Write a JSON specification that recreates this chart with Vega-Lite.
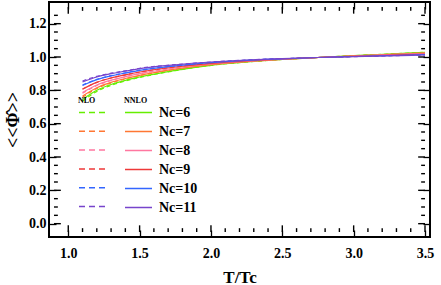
{
  "$schema": "https://vega.github.io/schema/vega-lite/v6.json",
  "width": 381,
  "height": 235,
  "autosize": {"type": "none"},
  "padding": {"left": 49, "top": 2, "right": 11, "bottom": 48},
  "config": {
    "view": {"stroke": "black", "strokeWidth": 2},
    "font": "Liberation Serif",
    "axis": {"grid": false, "domain": false, "ticks": true, "tickColor": "#000000", "tickOpacity": 1, "tickWidth": 1.3, "labelFont": "Liberation Serif", "labelFontWeight": "bold", "labelFontSize": 14, "labelColor": "black", "titleFont": "Liberation Serif", "titleFontWeight": "bold", "titleColor": "black", "zindex": 1}
  },
  "datasets": {
    "xmajor": [{"v": 1.0}, {"v": 1.5}, {"v": 2.0}, {"v": 2.5}, {"v": 3.0}, {"v": 3.5}],
    "xminor": [{"v": 1.1}, {"v": 1.2}, {"v": 1.3}, {"v": 1.4}, {"v": 1.6}, {"v": 1.7}, {"v": 1.8}, {"v": 1.9}, {"v": 2.1}, {"v": 2.2}, {"v": 2.3}, {"v": 2.4}, {"v": 2.6}, {"v": 2.7}, {"v": 2.8}, {"v": 2.9}, {"v": 3.1}, {"v": 3.2}, {"v": 3.3}, {"v": 3.4}],
    "ymajor": [{"v": 0.0}, {"v": 0.2}, {"v": 0.4}, {"v": 0.6}, {"v": 0.8}, {"v": 1.0}, {"v": 1.2}],
    "yminor": [{"v": 0.05}, {"v": 0.1}, {"v": 0.15}, {"v": 0.25}, {"v": 0.3}, {"v": 0.35}, {"v": 0.45}, {"v": 0.5}, {"v": 0.55}, {"v": 0.65}, {"v": 0.7}, {"v": 0.75}, {"v": 0.85}, {"v": 0.9}, {"v": 0.95}, {"v": 1.05}, {"v": 1.1}, {"v": 1.15}, {"v": 1.25}]
  },
  "data": {
    "values": [
      {"x": 1.1, "Nc": 6, "NLO": 0.735, "NNLO": 0.745}, {"x": 1.1, "Nc": 7, "NLO": 0.759, "NNLO": 0.766}, {"x": 1.1, "Nc": 8, "NLO": 0.783, "NNLO": 0.787}, {"x": 1.1, "Nc": 9, "NLO": 0.807, "NNLO": 0.808}, {"x": 1.1, "Nc": 10, "NLO": 0.832, "NNLO": 0.829}, {"x": 1.1, "Nc": 11, "NLO": 0.856, "NNLO": 0.850},
      {"x": 1.2, "Nc": 6, "NLO": 0.793, "NNLO": 0.800}, {"x": 1.2, "Nc": 7, "NLO": 0.811, "NNLO": 0.816}, {"x": 1.2, "Nc": 8, "NLO": 0.829, "NNLO": 0.832}, {"x": 1.2, "Nc": 9, "NLO": 0.848, "NNLO": 0.848}, {"x": 1.2, "Nc": 10, "NLO": 0.866, "NNLO": 0.864}, {"x": 1.2, "Nc": 11, "NLO": 0.884, "NNLO": 0.880},
      {"x": 1.3, "Nc": 6, "NLO": 0.830, "NNLO": 0.835}, {"x": 1.3, "Nc": 7, "NLO": 0.845, "NNLO": 0.848}, {"x": 1.3, "Nc": 8, "NLO": 0.859, "NNLO": 0.861}, {"x": 1.3, "Nc": 9, "NLO": 0.874, "NNLO": 0.874}, {"x": 1.3, "Nc": 10, "NLO": 0.888, "NNLO": 0.887}, {"x": 1.3, "Nc": 11, "NLO": 0.903, "NNLO": 0.900},
      {"x": 1.4, "Nc": 6, "NLO": 0.856, "NNLO": 0.860}, {"x": 1.4, "Nc": 7, "NLO": 0.868, "NNLO": 0.871}, {"x": 1.4, "Nc": 8, "NLO": 0.881, "NNLO": 0.882}, {"x": 1.4, "Nc": 9, "NLO": 0.893, "NNLO": 0.893}, {"x": 1.4, "Nc": 10, "NLO": 0.905, "NNLO": 0.904}, {"x": 1.4, "Nc": 11, "NLO": 0.917, "NNLO": 0.915},
      {"x": 1.5, "Nc": 6, "NLO": 0.877, "NNLO": 0.880}, {"x": 1.5, "Nc": 7, "NLO": 0.888, "NNLO": 0.890}, {"x": 1.5, "Nc": 8, "NLO": 0.899, "NNLO": 0.900}, {"x": 1.5, "Nc": 9, "NLO": 0.910, "NNLO": 0.910}, {"x": 1.5, "Nc": 10, "NLO": 0.921, "NNLO": 0.920}, {"x": 1.5, "Nc": 11, "NLO": 0.932, "NNLO": 0.930},
      {"x": 1.75, "Nc": 6, "NLO": 0.918, "NNLO": 0.920}, {"x": 1.75, "Nc": 7, "NLO": 0.926, "NNLO": 0.927}, {"x": 1.75, "Nc": 8, "NLO": 0.934, "NNLO": 0.934}, {"x": 1.75, "Nc": 9, "NLO": 0.940, "NNLO": 0.940}, {"x": 1.75, "Nc": 10, "NLO": 0.947, "NNLO": 0.947}, {"x": 1.75, "Nc": 11, "NLO": 0.954, "NNLO": 0.953},
      {"x": 2.0, "Nc": 6, "NLO": 0.950, "NNLO": 0.950}, {"x": 2.0, "Nc": 7, "NLO": 0.954, "NNLO": 0.954}, {"x": 2.0, "Nc": 8, "NLO": 0.958, "NNLO": 0.958}, {"x": 2.0, "Nc": 9, "NLO": 0.962, "NNLO": 0.962}, {"x": 2.0, "Nc": 10, "NLO": 0.966, "NNLO": 0.966}, {"x": 2.0, "Nc": 11, "NLO": 0.970, "NNLO": 0.970},
      {"x": 2.25, "Nc": 6, "NLO": 0.970, "NNLO": 0.970}, {"x": 2.25, "Nc": 7, "NLO": 0.972, "NNLO": 0.972}, {"x": 2.25, "Nc": 8, "NLO": 0.975, "NNLO": 0.975}, {"x": 2.25, "Nc": 9, "NLO": 0.977, "NNLO": 0.977}, {"x": 2.25, "Nc": 10, "NLO": 0.980, "NNLO": 0.980}, {"x": 2.25, "Nc": 11, "NLO": 0.982, "NNLO": 0.982},
      {"x": 2.5, "Nc": 6, "NLO": 0.985, "NNLO": 0.985}, {"x": 2.5, "Nc": 7, "NLO": 0.986, "NNLO": 0.986}, {"x": 2.5, "Nc": 8, "NLO": 0.987, "NNLO": 0.987}, {"x": 2.5, "Nc": 9, "NLO": 0.988, "NNLO": 0.988}, {"x": 2.5, "Nc": 10, "NLO": 0.989, "NNLO": 0.989}, {"x": 2.5, "Nc": 11, "NLO": 0.990, "NNLO": 0.990},
      {"x": 2.75, "Nc": 6, "NLO": 0.997, "NNLO": 0.997}, {"x": 2.75, "Nc": 7, "NLO": 0.997, "NNLO": 0.997}, {"x": 2.75, "Nc": 8, "NLO": 0.997, "NNLO": 0.997}, {"x": 2.75, "Nc": 9, "NLO": 0.997, "NNLO": 0.997}, {"x": 2.75, "Nc": 10, "NLO": 0.997, "NNLO": 0.997}, {"x": 2.75, "Nc": 11, "NLO": 0.997, "NNLO": 0.997},
      {"x": 3.0, "Nc": 6, "NLO": 1.008, "NNLO": 1.008}, {"x": 3.0, "Nc": 7, "NLO": 1.007, "NNLO": 1.007}, {"x": 3.0, "Nc": 8, "NLO": 1.006, "NNLO": 1.006}, {"x": 3.0, "Nc": 9, "NLO": 1.004, "NNLO": 1.004}, {"x": 3.0, "Nc": 10, "NLO": 1.003, "NNLO": 1.003}, {"x": 3.0, "Nc": 11, "NLO": 1.002, "NNLO": 1.002},
      {"x": 3.25, "Nc": 6, "NLO": 1.018, "NNLO": 1.018}, {"x": 3.25, "Nc": 7, "NLO": 1.016, "NNLO": 1.016}, {"x": 3.25, "Nc": 8, "NLO": 1.014, "NNLO": 1.014}, {"x": 3.25, "Nc": 9, "NLO": 1.011, "NNLO": 1.011}, {"x": 3.25, "Nc": 10, "NLO": 1.009, "NNLO": 1.009}, {"x": 3.25, "Nc": 11, "NLO": 1.007, "NNLO": 1.007},
      {"x": 3.5, "Nc": 6, "NLO": 1.028, "NNLO": 1.028}, {"x": 3.5, "Nc": 7, "NLO": 1.025, "NNLO": 1.025}, {"x": 3.5, "Nc": 8, "NLO": 1.022, "NNLO": 1.022}, {"x": 3.5, "Nc": 9, "NLO": 1.018, "NNLO": 1.018}, {"x": 3.5, "Nc": 10, "NLO": 1.015, "NNLO": 1.015}, {"x": 3.5, "Nc": 11, "NLO": 1.012, "NNLO": 1.012}
    ]
  },
  "layer": [
    {
      "mark": {"type": "line", "strokeDash": [4, 3], "strokeWidth": 1.2, "interpolate": "monotone"},
      "encoding": {
        "x": {"field": "x", "type": "quantitative", "scale": {"domain": [0.9, 3.5], "nice": false, "zero": false},
          "axis": {"orient": "bottom", "title": "T/Tc", "titleFontSize": 17, "titlePadding": 9,
            "values": [1.0, 1.5, 2.0, 2.5, 3.0, 3.5], "format": ".1f",
            "ticks": true, "tickColor": "#000000", "tickWidth": 1.3, "offset": -7, "tickSize": 7, "labelPadding": 9}},
        "y": {"field": "NLO", "type": "quantitative", "scale": {"domain": [-0.05, 1.3], "nice": false, "zero": false},
          "axis": {"orient": "left", "title": "<<Φ̂>>", "titleFontSize": 18, "titlePadding": 6,
            "values": [0, 0.2, 0.4, 0.6, 0.8, 1.0, 1.2], "format": ".1f",
            "ticks": true, "tickColor": "#000000", "tickWidth": 1.3, "offset": -7, "tickSize": 7, "labelPadding": 3}},
        "color": {"field": "Nc", "type": "nominal",
          "scale": {"domain": [6, 7, 8, 9, 10, 11], "range": ["#66ee00", "#ff7733", "#ff77a0", "#ee3838", "#3366ff", "#7744cc"]},
          "legend": {"title": "NLO", "orient": "none", "legendX": 29, "legendY": 95, "symbolType": "stroke", "symbolSize": 729, "symbolDash": [6, 4], "symbolStrokeWidth": 1.5, "labelExpr": "''", "titleFont": "Liberation Serif", "titleFontSize": 8, "titleFontWeight": "bold", "titleColor": "black", "clipHeight": 13, "rowPadding": 5.8, "titlePadding": 1}}
      }
    },
    {
      "mark": {"type": "line", "strokeWidth": 1.2, "interpolate": "monotone"},
      "encoding": {
        "x": {"field": "x", "type": "quantitative", "scale": {"domain": [0.9, 3.5], "nice": false, "zero": false},
          "axis": {"orient": "top", "title": null, "labels": false, "values": [1.0, 1.5, 2.0, 2.5, 3.0, 3.5], "ticks": true, "tickColor": "#000000", "tickWidth": 1.3, "offset": -7, "tickSize": 7}},
        "y": {"field": "NNLO", "type": "quantitative", "scale": {"domain": [-0.05, 1.3], "nice": false, "zero": false},
          "axis": {"orient": "right", "title": null, "labels": false, "values": [0, 0.2, 0.4, 0.6, 0.8, 1.0, 1.2], "ticks": true, "tickColor": "#000000", "tickWidth": 1.3, "offset": -7, "tickSize": 7}},
        "stroke": {"field": "Nc", "type": "nominal",
          "scale": {"range": ["#66ee00", "#ff7733", "#ff77a0", "#ee3838", "#3366ff", "#7744cc"]},
          "legend": {"title": "NNLO", "orient": "none", "legendX": 75, "legendY": 95, "symbolType": "stroke", "symbolSize": 729, "symbolStrokeWidth": 1.5, "labelExpr": "'Nc=' + datum.label", "labelFont": "Liberation Serif", "labelFontSize": 14, "labelFontWeight": "bold", "labelColor": "black", "labelOffset": 6, "titleFont": "Liberation Serif", "titleFontSize": 8, "titleFontWeight": "bold", "titleColor": "black", "clipHeight": 13, "rowPadding": 4, "titlePadding": 1}}
      }
    },
    {
      "data": {"name": "xmajor"},
      "mark": {"type": "bar", "width": 1.4, "color": "black"},
      "encoding": {
        "x": {"field": "v", "type": "quantitative", "axis": null, "scale": {"domain": [0.9, 3.5], "nice": false, "zero": false}},
        "y": {"datum": -0.05, "type": "quantitative", "axis": null, "scale": {"domain": [-0.05, 1.3], "nice": false, "zero": false}},
        "y2": {"datum": -0.01}
      }
    },
    {
      "data": {"name": "xmajor"},
      "mark": {"type": "bar", "width": 1.4, "color": "black"},
      "encoding": {
        "x": {"field": "v", "type": "quantitative", "axis": null, "scale": {"domain": [0.9, 3.5], "nice": false, "zero": false}},
        "y": {"datum": 1.3, "type": "quantitative", "axis": null, "scale": {"domain": [-0.05, 1.3], "nice": false, "zero": false}},
        "y2": {"datum": 1.26}
      }
    },
    {
      "data": {"name": "xminor"},
      "mark": {"type": "bar", "width": 1.4, "color": "black"},
      "encoding": {
        "x": {"field": "v", "type": "quantitative", "axis": null, "scale": {"domain": [0.9, 3.5], "nice": false, "zero": false}},
        "y": {"datum": -0.05, "type": "quantitative", "axis": null, "scale": {"domain": [-0.05, 1.3], "nice": false, "zero": false}},
        "y2": {"datum": -0.027}
      }
    },
    {
      "data": {"name": "xminor"},
      "mark": {"type": "bar", "width": 1.4, "color": "black"},
      "encoding": {
        "x": {"field": "v", "type": "quantitative", "axis": null, "scale": {"domain": [0.9, 3.5], "nice": false, "zero": false}},
        "y": {"datum": 1.3, "type": "quantitative", "axis": null, "scale": {"domain": [-0.05, 1.3], "nice": false, "zero": false}},
        "y2": {"datum": 1.277}
      }
    },
    {
      "data": {"name": "ymajor"},
      "mark": {"type": "bar", "height": 1.4, "color": "black"},
      "encoding": {
        "y": {"field": "v", "type": "quantitative", "axis": null, "scale": {"domain": [-0.05, 1.3], "nice": false, "zero": false}},
        "x": {"datum": 0.9, "type": "quantitative", "axis": null, "scale": {"domain": [0.9, 3.5], "nice": false, "zero": false}},
        "x2": {"datum": 0.948}
      }
    },
    {
      "data": {"name": "ymajor"},
      "mark": {"type": "bar", "height": 1.4, "color": "black"},
      "encoding": {
        "y": {"field": "v", "type": "quantitative", "axis": null, "scale": {"domain": [-0.05, 1.3], "nice": false, "zero": false}},
        "x": {"datum": 3.5, "type": "quantitative", "axis": null, "scale": {"domain": [0.9, 3.5], "nice": false, "zero": false}},
        "x2": {"datum": 3.452}
      }
    },
    {
      "data": {"name": "yminor"},
      "mark": {"type": "bar", "height": 1.4, "color": "black"},
      "encoding": {
        "y": {"field": "v", "type": "quantitative", "axis": null, "scale": {"domain": [-0.05, 1.3], "nice": false, "zero": false}},
        "x": {"datum": 0.9, "type": "quantitative", "axis": null, "scale": {"domain": [0.9, 3.5], "nice": false, "zero": false}},
        "x2": {"datum": 0.927}
      }
    },
    {
      "data": {"name": "yminor"},
      "mark": {"type": "bar", "height": 1.4, "color": "black"},
      "encoding": {
        "y": {"field": "v", "type": "quantitative", "axis": null, "scale": {"domain": [-0.05, 1.3], "nice": false, "zero": false}},
        "x": {"datum": 3.5, "type": "quantitative", "axis": null, "scale": {"domain": [0.9, 3.5], "nice": false, "zero": false}},
        "x2": {"datum": 3.473}
      }
    }
  ],
  "resolve": {"axis": {"x": "independent", "y": "independent"}}
}
